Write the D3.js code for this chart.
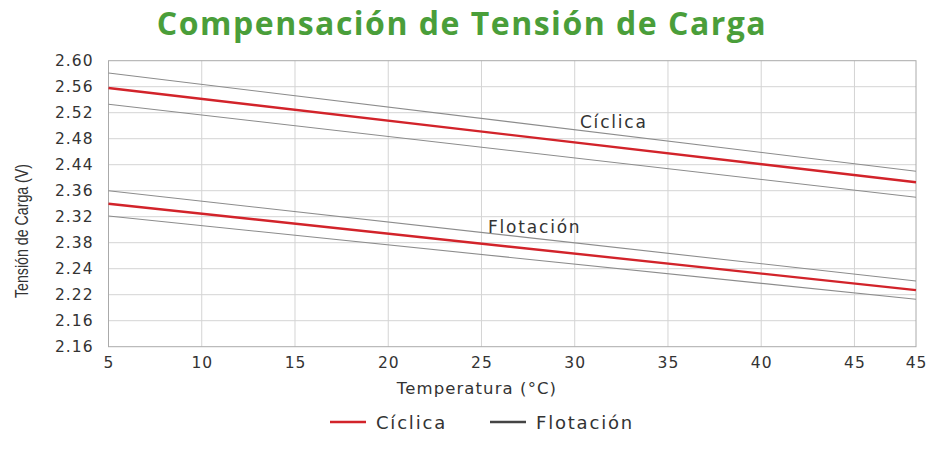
<!DOCTYPE html>
<html>
<head>
<meta charset="utf-8">
<title>Compensación de Tensión de Carga</title>
<script src="https://cdn.jsdelivr.net/npm/d3@7"></script>
<style>
  body { margin: 0; background: #fff; }
  svg text { fill: #333; }
</style>
</head>
<body>
<script>
    // axis ticks (labels kept as printed on the original)
    var xTicks = [5, 10, 15, 20, 25, 30, 35, 40, 45, 48.3];
    var xTickLabels = ["5", "10", "15", "20", "25", "30", "35", "40", "45", "45"];
    var yTicks = [2.60, 2.56, 2.52, 2.48, 2.44, 2.40, 2.36, 2.32, 2.28, 2.24, 2.20, 2.16];
    var yTickLabels = ["2.60", "2.56", "2.52", "2.48", "2.44", "2.36", "2.32", "2.38", "2.24", "2.22", "2.16", "2.16"];

    // series (temperature -> volts)
    var temps = [5, 48.3];
    var ciclica = [2.558, 2.413];
    var ciclicaHigh = [2.581, 2.430];
    var ciclicaLow = [2.533, 2.390];
    var flotacion = [2.380, 2.247];
    var flotacionHigh = [2.400, 2.261];
    var flotacionLow = [2.361, 2.233];

    var labelNames = ["Cíclica", "Flotación"];
    var labelTemps = [30.28, 25.35];
    var labelVolts = [2.4965, 2.335];

    var width = 926, height = 452;
    var m = { left: 108.5, right: 916, top: 60.7, bottom: 346.7 };

    var svg = d3.select("body").append("svg")
        .attr("width", width)
        .attr("height", height);

    var x = d3.scaleLinear().domain([5, 48.3]).range([m.left, m.right]);
    var y = d3.scaleLinear().domain([2.16, 2.60]).range([m.bottom, m.top]);

    // title
    svg.append("text")
        .attr("x", 462).attr("y", 35)
        .attr("text-anchor", "middle")
        .style("font-family", "'Open Sans', sans-serif")
        .style("font-weight", "bold")
        .style("font-size", "32px")
        .style("letter-spacing", "1.5px")
        .style("fill", "#4a9e3a")
        .text("Compensación de Tensión de Carga");

    // grid
    var grid = svg.append("g");
    grid.selectAll(".vg")
        .data(xTicks.slice(1, -1))
        .enter().append("line")
        .attr("x1", x).attr("x2", x)
        .attr("y1", m.top).attr("y2", m.bottom)
        .attr("stroke", "#d4d4d4");
    grid.selectAll(".hg")
        .data(yTicks.slice(1, -1))
        .enter().append("line")
        .attr("x1", m.left).attr("x2", m.right)
        .attr("y1", y).attr("y2", y)
        .attr("stroke", "#d4d4d4");
    grid.append("rect")
        .attr("x", m.left).attr("y", m.top)
        .attr("width", m.right - m.left).attr("height", m.bottom - m.top)
        .attr("fill", "none")
        .attr("stroke", "#aaa");

    // axes
    var yAxis = d3.axisLeft(y)
        .tickValues(yTicks)
        .tickSize(0)
        .tickPadding(15)
        .tickFormat(function(d, i) { return yTickLabels[i]; });
    var gy = svg.append("g").attr("transform", "translate(" + m.left + ",0)").call(yAxis);
    gy.select(".domain").remove();
    gy.selectAll("text")
        .style("font-family", "'DejaVu Sans', sans-serif")
        .style("font-size", "15.5px")
        .style("letter-spacing", "1px")
        .style("fill", "#333");

    var xAxis = d3.axisBottom(x)
        .tickValues(xTicks)
        .tickSize(0)
        .tickPadding(10)
        .tickFormat(function(d, i) { return xTickLabels[i]; });
    var gx = svg.append("g").attr("transform", "translate(0," + m.bottom + ")").call(xAxis);
    gx.select(".domain").remove();
    gx.selectAll("text")
        .style("font-family", "'DejaVu Sans', sans-serif")
        .style("font-size", "15.5px")
        .style("letter-spacing", "1px")
        .style("fill", "#333");

    // axis titles
    svg.append("text")
        .attr("x", 477).attr("y", 394)
        .attr("text-anchor", "middle")
        .style("font-family", "'DejaVu Sans', sans-serif")
        .style("font-size", "16.5px")
        .style("letter-spacing", "1.1px")
        .text("Temperatura (°C)");

    svg.append("text")
        .attr("transform", "translate(28,231) rotate(-90)")
        .attr("text-anchor", "middle")
        .attr("textLength", 134)
        .attr("lengthAdjust", "spacingAndGlyphs")
        .style("font-family", "'Liberation Sans Narrow', 'Liberation Sans', sans-serif")
        .style("font-size", "19px")
        .text("Tensión de Carga (V)");

    // lines
    var line = d3.line()
        .x(function(d) { return x(d[0]); })
        .y(function(d) { return y(d[1]); });
    function pairs(vals) { return temps.map(function(t, i) { return [t, vals[i]]; }); }

    var bands = [ciclicaHigh, ciclicaLow, flotacionHigh, flotacionLow];
    svg.append("g").selectAll("path")
        .data(bands)
        .enter().append("path")
        .attr("d", function(d) { return line(pairs(d)); })
        .attr("fill", "none")
        .attr("stroke", "#8c8c8c")
        .attr("stroke-width", 1.1);

    svg.append("g").selectAll("path")
        .data([ciclica, flotacion])
        .enter().append("path")
        .attr("d", function(d) { return line(pairs(d)); })
        .attr("fill", "none")
        .attr("stroke", "#d2232a")
        .attr("stroke-width", 2.4);

    // in-chart labels
    svg.append("g").selectAll("text")
        .data(labelNames)
        .enter().append("text")
        .attr("x", function(d, i) { return x(labelTemps[i]); })
        .attr("y", function(d, i) { return y(labelVolts[i]); })
        .style("font-family", "'DejaVu Sans', sans-serif")
        .style("font-size", "17px")
        .style("letter-spacing", "1.8px")
        .text(function(d) { return d; });

    // legend
    var legendColors = ["#d2232a", "#444"];
    var legendX = [330, 490];
    var lg = svg.append("g").selectAll("g")
        .data(labelNames)
        .enter().append("g")
        .attr("transform", function(d, i) { return "translate(" + legendX[i] + ",422)"; });
    lg.append("line")
        .attr("x1", 0).attr("x2", 36)
        .attr("stroke", function(d, i) { return legendColors[i]; })
        .attr("stroke-width", 2.4);
    lg.append("text")
        .attr("x", 46).attr("y", 6.5)
        .style("font-family", "'DejaVu Sans', sans-serif")
        .style("font-size", "18px")
        .style("letter-spacing", "1.8px")
        .text(function(d) { return d; });
</script>
</body>
</html>
